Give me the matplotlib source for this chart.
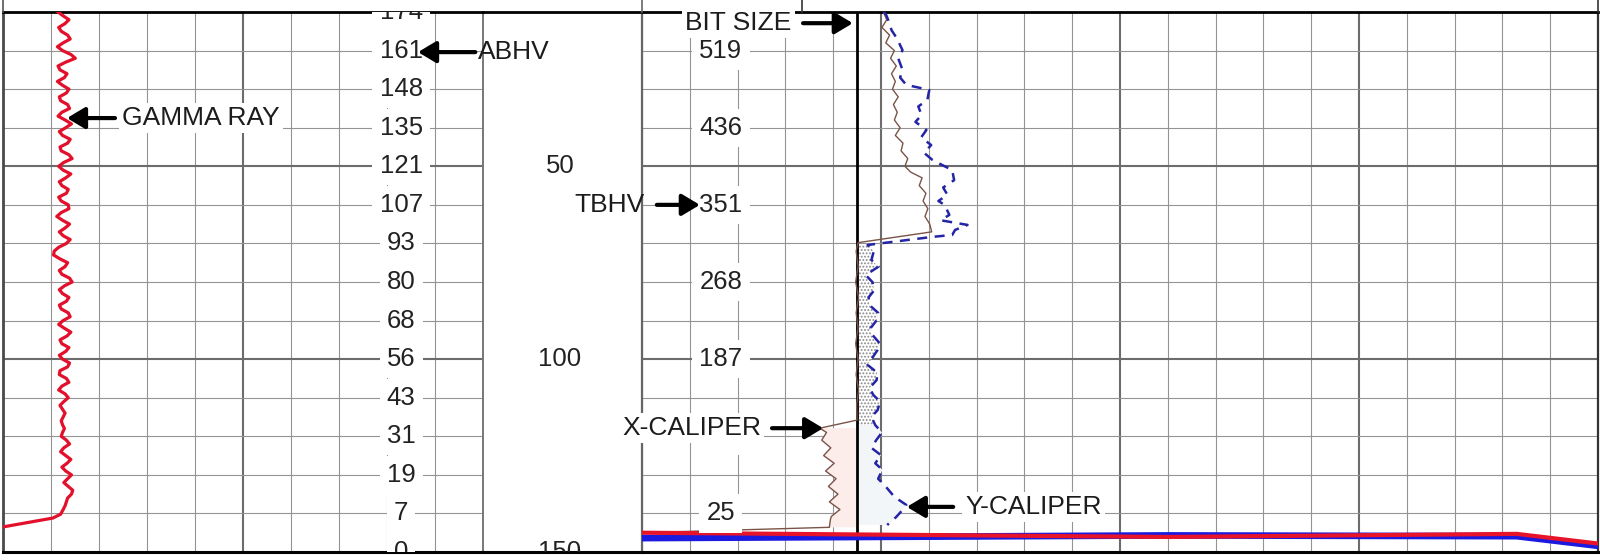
import numpy as np
import matplotlib
matplotlib.use('Agg')
from matplotlib import pyplot as plt
from matplotlib.lines import Line2D

plt.rcParams['font.family'] = ['Liberation Sans', 'DejaVu Sans']
plt.rcParams['hatch.linewidth'] = 0.9

# depth interval shown (ft) and grid
TOP, BASE = 10, 150
depth_grid = [10, 20, 30, 40, 50, 60, 70, 80, 90, 100, 110, 120, 130, 140, 150]
depth_labels = [50, 100, 150]

# annular / total borehole volume readings
abhv_depth = [10, 20, 30, 40, 50, 60, 70, 80, 90, 100, 110, 120, 130, 140, 150]
abhv_values = [174, 161, 148, 135, 121, 107, 93, 80, 68, 56, 43, 31, 19, 7, 0]
tbhv_depth = [20, 40, 60, 80, 100, 120, 140]
tbhv_values = [519, 436, 351, 268, 187, 105, 25]

# gamma ray, one reading per foot from 10 ft
gr_depth = np.arange(10, 140)
gr_values = [
    17.2, 18.8, 20.6, 19.4, 17.4, 18.2, 20.2, 21.0, 18.8, 17.0,
    18.6, 21.2, 22.6, 19.6, 17.2, 17.8, 20.0, 19.2, 17.0, 18.6,
    20.6, 19.8, 17.6, 18.0, 20.2, 20.8, 18.4, 17.2, 19.4, 21.4,
    19.6, 17.6, 18.6, 21.0, 20.2, 17.8, 18.2, 20.6, 21.6, 19.0,
    17.4, 18.8, 21.2, 19.6, 17.6, 18.4, 20.4, 19.8, 17.4, 18.2,
    20.4, 20.6, 18.2, 16.8, 18.6, 20.8, 19.4, 17.6, 18.8, 21.0,
    19.8, 17.4, 16.0, 15.8, 17.8, 20.2, 19.4, 17.6, 18.4, 20.8,
    21.6, 19.2, 17.6, 18.6, 20.6, 19.8, 17.6, 18.2, 20.4, 21.0,
    18.8, 17.4, 19.2, 21.2, 20.0, 17.8, 18.4, 20.6, 19.6, 17.6,
    18.6, 20.8, 20.2, 17.8, 17.6, 19.8, 20.6, 18.4, 17.4, 19.4,
    20.4, 19.0, 17.8, 18.6, 19.4, 18.8, 18.2, 18.6, 19.2, 18.6,
    18.2, 19.8, 20.8, 19.0, 18.0, 19.6, 21.2, 20.0, 18.4, 19.6,
    21.4, 20.2, 19.0, 20.4, 21.8, 21.4, 20.2, 19.8, 19.4, 18.8,
]
gr_tail_depth = [140.2, 141.2, 143.5]
gr_tail = [18.0, 15.6, 0.0]

BIT_SIZE = 8.5

# X caliper (in)
xcal_depth = [10, 12, 14, 16, 18, 20, 22, 24, 26, 28, 30, 32, 34, 36, 38, 40, 42, 44, 46, 48, 50,
              51.5, 53, 55, 57, 59, 61, 63, 65, 67, 69.8,
              72, 76, 80, 84, 88, 92, 96, 100, 104, 108, 112, 115.8, 117.9,
              119, 121, 123, 125, 127, 129, 131, 133, 135, 137, 139, 140.8, 141.7, 143.6, 145.0]
xcal = [9.05, 9.12, 9.02, 9.18, 9.10, 9.28, 9.20, 9.32, 9.22, 9.30, 9.24, 9.36, 9.26, 9.34, 9.28,
        9.40, 9.30, 9.46, 9.42, 9.56, 9.50,
        9.62, 9.86, 9.80, 9.94, 9.88, 9.98, 9.92, 10.02, 10.06, 8.52,
        8.48, 8.52, 8.47, 8.53, 8.48, 8.52, 8.47, 8.52, 8.48, 8.53, 8.49, 8.50, 7.72,
        7.86, 7.76, 7.95, 7.80, 8.02, 7.84, 8.06, 7.90, 8.10, 7.92, 8.14, 7.96, 7.94, 7.92, 4.0]

# Y caliper (in)
ycal_depth = [10, 10.8, 13, 14.7, 17, 19.9, 22, 25, 27, 28.9, 30.2, 32.8, 34.5, 36.7, 38.5, 40.6,
              42.5, 44.5, 46.5, 48.4, 51.0, 53.6, 55.5, 57.4, 59, 60.0, 62.6, 64, 65.2, 66.5,
              67.8, 68.3, 70.4, 72, 74.3, 76, 78.2, 80, 82.1, 84, 86.0, 88, 89.9, 92, 93.7,
              96, 97.6, 100, 101.5, 103.5, 105.4, 107.5, 109.3, 111, 113.2, 115, 117.1, 119,
              121.0, 123, 124.9, 127, 128.7, 131, 133.2, 135.7, 137.8, 139.1, 140.9, 143.0]
ycal = [9.06, 9.11, 9.18, 9.22, 9.34, 9.45, 9.36, 9.45, 9.40, 9.53, 10.01, 9.97, 9.78, 9.85, 9.72,
        9.95, 9.84, 10.05, 9.90, 10.08, 10.49, 10.53, 10.30, 10.39, 10.20, 10.33, 10.43, 10.25,
        10.81, 10.55, 10.49, 10.08, 8.72, 8.85, 8.80, 8.95, 8.68, 8.82, 8.86, 8.74, 8.76, 8.94,
        8.91, 8.78, 8.82, 8.98, 8.93, 8.80, 8.72, 8.92, 8.91, 8.76, 8.84, 8.98, 8.93, 8.80, 8.88,
        9.02, 8.90, 8.80, 9.00, 8.88, 9.03, 8.94, 9.11, 9.28, 9.53, 9.45, 9.32, 9.13]

# traces running along the base of the caliper track
base_red_cal = [4.0, 15.0, 22.3, 24.0]
base_red_depth = [145.0, 146.1, 145.3, 147.8]
base_blue_cal = [4.0, 15.0, 22.3, 24.0]
base_blue_depth = [146.4, 145.7, 145.9, 148.4]

W, H = 1600, 560
fig = plt.figure(figsize=(W / 100, H / 100), dpi=100)
fig.patch.set_facecolor('white')

y0, hgt = 8 / H, 540 / H
ax_gr = fig.add_axes([3 / W, y0, 480 / W, hgt])
ax_dep = fig.add_axes([483 / W, y0, 159 / W, hgt])
ax_cal = fig.add_axes([642 / W, y0, 956 / W, hgt])
ax_dep.patch.set_visible(False)


def style_track(ax, major_x, minor_x):
    ax.set_ylim(BASE, TOP)
    ax.set_yticks([50, 100])
    ax.set_yticks(depth_grid, minor=True)
    ax.set_xticks(major_x)
    ax.set_xticks(minor_x, minor=True)
    ax.grid(which='minor', color='#949494', lw=0.8)
    ax.grid(which='major', color='#6c6c6c', lw=1.5)
    ax.tick_params(which='both', length=0, labelbottom=False, labelleft=False)
    ax.set_axisbelow(True)
    for s in ('top', 'bottom'):
        ax.spines[s].set_color('black')
    ax.spines['top'].set_linewidth(2.0)
    ax.spines['bottom'].set_linewidth(2.2)


# gamma ray track
ax_gr.set_xlim(0, 150)
style_track(ax_gr, [75], list(range(0, 151, 15)))
ax_gr.spines['left'].set_color('#4a4a4a')
ax_gr.spines['left'].set_linewidth(2.0)
ax_gr.spines['right'].set_color('#777777')
ax_gr.spines['right'].set_linewidth(1.4)
ax_gr.plot(list(gr_values) + gr_tail, list(gr_depth) + gr_tail_depth,
           color='#e3102b', lw=2.3, solid_joinstyle='round', zorder=3)

# depth column
ax_dep.set_xlim(0, 1)
ax_dep.set_ylim(BASE, TOP)
ax_dep.set_xticks([])
ax_dep.set_yticks([])
ax_dep.spines['left'].set_visible(False)
ax_dep.spines['right'].set_visible(False)
ax_dep.spines['top'].set_linewidth(2.0)
ax_dep.spines['bottom'].set_linewidth(2.2)
for d in depth_labels:
    ax_dep.text(0.484, d, str(d), ha='center', va='center', fontsize=18.5,
                color='#222222', clip_on=True)

# caliper track
ax_cal.set_xlim(4, 24)
style_track(ax_cal, [9, 14, 19], list(range(4, 25)))
ax_cal.spines['left'].set_color('#666666')
ax_cal.spines['left'].set_linewidth(1.6)
ax_cal.spines['right'].set_color('#333333')
ax_cal.spines['right'].set_linewidth(1.6)

yd = np.array(ycal_depth)
yc = np.array(ycal)
xd = np.array(xcal_depth)
xc = np.array(xcal)
ax_cal.fill_betweenx(yd, BIT_SIZE, yc, where=(yd >= 70) & (yd <= 118),
                     facecolor='white', edgecolor='#8a8a8a', hatch='.....', lw=0, zorder=1.5)
ax_cal.fill_betweenx(yd, BIT_SIZE, yc, where=yd >= 117,
                     facecolor='#f3f6f9', lw=0, zorder=1.4)
ax_cal.fill_betweenx(xd, xc, BIT_SIZE, where=(xd >= 117.9) & (xd <= 143.6),
                     facecolor='#fcecea', lw=0, zorder=1.4)

ax_cal.axvline(BIT_SIZE, color='black', lw=2.0, zorder=3)
ax_cal.plot(xcal, xcal_depth, color='#7a5448', lw=1.0, zorder=4)
ax_cal.plot(ycal, ycal_depth, color='#2424a6', lw=1.8, ls=(0, (4, 3)), zorder=4)
ax_cal.plot(base_blue_cal, base_blue_depth, color='#1a1ae0', lw=4.8, zorder=4)
ax_cal.plot(base_red_cal, base_red_depth, color='#e8142a', lw=3.0, zorder=4)

# volume scales
num_box = dict(boxstyle='square,pad=0.28', fc='white', ec='none')
for d, v in zip(abhv_depth, abhv_values):
    ax_gr.text(124.4, d, str(v), ha='center', va='center', fontsize=18.5,
               color='#222222', bbox=num_box, clip_on=True, zorder=5)
for d, v in zip(tbhv_depth, tbhv_values):
    ax_cal.text(5.65, d, str(v), ha='center', va='center', fontsize=18.5,
                color='#222222', bbox=num_box, clip_on=True, zorder=5)

# curve names with pointers
name_kw = dict(fontsize=19, color='#1c1c1c', va='center', clip_on=False, zorder=7)
name_box = dict(boxstyle='square,pad=0.12', fc='white', ec='none')
arrow_kw = dict(arrowstyle='-|>,head_length=0.6,head_width=0.36', color='black',
                lw=3.0, shrinkA=0, shrinkB=0, mutation_scale=18)


def pointer(ax, tail, tip):
    ax.annotate('', xy=tip, xytext=tail, arrowprops=arrow_kw, zorder=8,
                annotation_clip=False)


ax_gr.text(37.2, 37.5, 'GAMMA RAY', ha='left', bbox=name_box, **name_kw)
pointer(ax_gr, (35.0, 37.5), (20.0, 37.5))

ax_gr.text(148.4, 20.4, 'ABHV', ha='left', **name_kw)
pointer(ax_gr, (147.6, 20.4), (129.7, 20.4))

ax_cal.text(4.06, 60.0, 'TBHV', ha='right', **name_kw)
pointer(ax_cal, (4.31, 60.0), (5.21, 60.0))

ax_cal.text(4.90, 12.9, 'BIT SIZE', ha='left', bbox=name_box, **name_kw)
pointer(ax_cal, (7.37, 12.9), (8.41, 12.9))

ax_cal.text(3.58, 117.9, 'X-CALIPER', ha='left', bbox=name_box, **name_kw)
pointer(ax_cal, (6.72, 117.9), (7.79, 117.9))

ax_cal.text(10.76, 138.3, 'Y-CALIPER', ha='left', bbox=name_box, **name_kw)
pointer(ax_cal, (10.51, 138.3), (9.54, 138.3))

# header strip above the tracks
top = 548 / H
for px, c in ((3, '#555555'), (642, '#666666'), (802, '#333333'), (1598, '#333333')):
    fig.add_artist(Line2D([px / W, px / W], [top, 1.0], color=c, lw=1.2))

fig.savefig('out.png', dpi=100, facecolor='white')
